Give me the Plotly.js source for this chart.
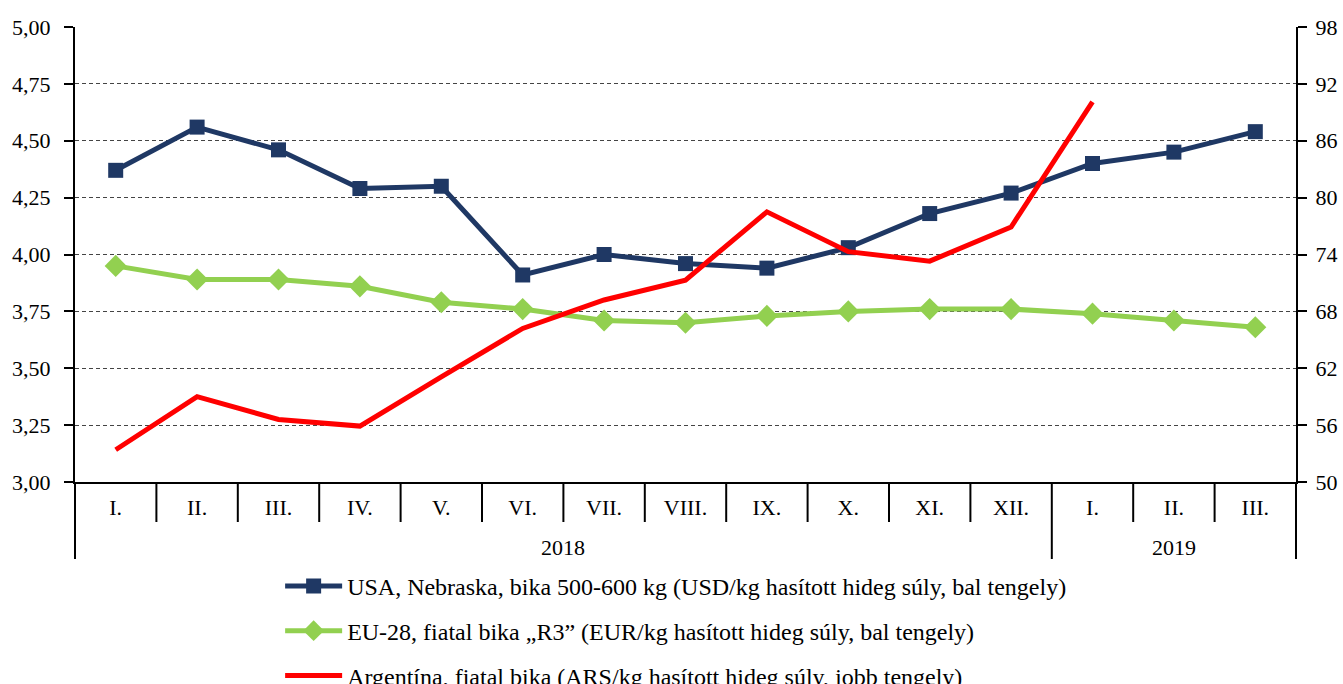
<!DOCTYPE html>
<html>
<head>
<meta charset="utf-8">
<script src="https://cdn.plot.ly/plotly-3.0.1.min.js"></script>
<style>
  html, body { margin: 0; padding: 0; background: #fff; }
  #chart { width: 1343px; height: 684px; }
</style>
</head>
<body>
<div id="chart"></div>
<script>
const years  = ['2018','2018','2018','2018','2018','2018','2018','2018','2018','2018','2018','2018','2019','2019','2019'];
const months = ['I.','II.','III.','IV.','V.','VI.','VII.','VIII.','IX.','X.','XI.','XII.','I.','II.','III.'];

const usaNebraska = [4.37, 4.56, 4.46, 4.29, 4.30, 3.91, 4.00, 3.96, 3.94, 4.03, 4.18, 4.27, 4.40, 4.45, 4.54];
const eu28        = [3.95, 3.89, 3.89, 3.86, 3.79, 3.76, 3.71, 3.70, 3.73, 3.75, 3.76, 3.76, 3.74, 3.71, 3.68];
const argentina   = [53.4, 59.0, 56.6, 55.9, 61.1, 66.2, 69.2, 71.3, 78.5, 74.3, 73.3, 76.9, 90.1, null, null];

const seriesNames = [
  'USA, Nebraska, bika 500-600 kg (USD/kg hasított hideg súly, bal tengely)',
  'EU-28, fiatal bika \u201ER3\u201D (EUR/kg hasított hideg súly, bal tengely)',
  'Argentína, fiatal bika (ARS/kg hasított hideg súly, jobb tengely)'
];

const FONT = 'Liberation Serif, Times New Roman, serif';

// category positions on the x axis (one slot per month)
const catIndex = months.map((_, i) => i);
const nCat = months.length;

const traces = [
  {
    x: catIndex, y: usaNebraska, name: seriesNames[0], legendgroup: 'a',
    type: 'scatter', mode: 'lines+markers',
    line: {color: '#1F3864', width: 5},
    marker: {symbol: 'square', size: 15, color: '#1F3864'}
  },
  {
    x: catIndex, y: eu28, name: seriesNames[1], legendgroup: 'b',
    type: 'scatter', mode: 'lines+markers',
    line: {color: '#92D050', width: 5},
    marker: {symbol: 'diamond', size: 17, color: '#92D050'}
  },
  {
    x: catIndex, y: argentina, name: seriesNames[2], legendgroup: 'c',
    type: 'scatter', mode: 'lines', yaxis: 'y2',
    line: {color: '#FF0000', width: 5}
  }
];

// category-table separators below the axis
const plotHeightPx = 684 - 27 - 202;
const shapes = [];
for (let b = 0; b <= nCat; b++) {
  const yearEdge = (b === 0 || b === nCat || years[b] !== years[b - 1]);
  shapes.push({
    type: 'line', xref: 'paper', yref: 'paper',
    x0: b / nCat, x1: b / nCat,
    y0: 0, y1: -(yearEdge ? 77 : 40) / plotHeightPx,
    line: {color: '#000', width: 2}
  });
}

// year labels centred under their months
const uniqueYears = [...new Set(years)];
const annotations = uniqueYears.map(yr => {
  const idx = catIndex.filter(i => years[i] === yr);
  return {
    text: yr, xref: 'x', yref: 'paper',
    x: (idx[0] + idx[idx.length - 1]) / 2,
    y: -65 / plotHeightPx, yanchor: 'middle', xanchor: 'center',
    showarrow: false,
    font: {family: FONT, size: 22, color: '#000'}
  };
});

const layout = {
  width: 1343, height: 684,
  margin: {l: 75, r: 47, t: 27, b: 202, autoexpand: false},
  paper_bgcolor: '#fff', plot_bgcolor: '#fff',
  separators: ', ',
  font: {family: FONT, size: 21, color: '#000'},
  showlegend: true,
  shapes: shapes,
  annotations: annotations,
  xaxis: {
    type: 'linear',
    range: [-0.5, nCat - 0.5], autorange: false,
    tickmode: 'array', tickvals: catIndex, ticktext: months,
    showline: true, linecolor: '#000', linewidth: 2,
    ticks: '',
    ticklabelstandoff: 5,
    showgrid: false, zeroline: false,
    tickfont: {family: FONT, size: 22, color: '#000'}
  },
  yaxis: {
    range: [3, 5], dtick: 0.25, tick0: 3, tickformat: '.2f',
    showline: true, linecolor: '#000', linewidth: 2,
    ticks: 'outside', ticklen: 9, tickwidth: 2, tickcolor: '#000',
    ticklabelstandoff: 9,
    showgrid: true, gridcolor: '#444', gridwidth: 1, griddash: '4px,3px',
    zeroline: false,
    tickfont: {family: FONT, size: 22, color: '#000'}
  },
  yaxis2: {
    range: [50, 98], dtick: 6, tick0: 50,
    overlaying: 'y', side: 'right',
    showline: true, linecolor: '#000', linewidth: 2,
    ticks: 'outside', ticklen: 9, tickwidth: 2, tickcolor: '#000',
    ticklabelstandoff: 4,
    showgrid: false, zeroline: false,
    tickfont: {family: FONT, size: 22, color: '#000'}
  },
  legend: {
    orientation: 'v',
    x: 0.168, xanchor: 'left',
    y: -0.18, yanchor: 'top',
    font: {family: FONT, size: 24, color: '#000'},
    bgcolor: 'rgba(0,0,0,0)',
    itemwidth: 57,
    tracegroupgap: 10.5,
    traceorder: 'grouped'
  }
};

Plotly.newPlot('chart', traces, layout, {displayModeBar: false, staticPlot: true});
</script>
</body>
</html>
